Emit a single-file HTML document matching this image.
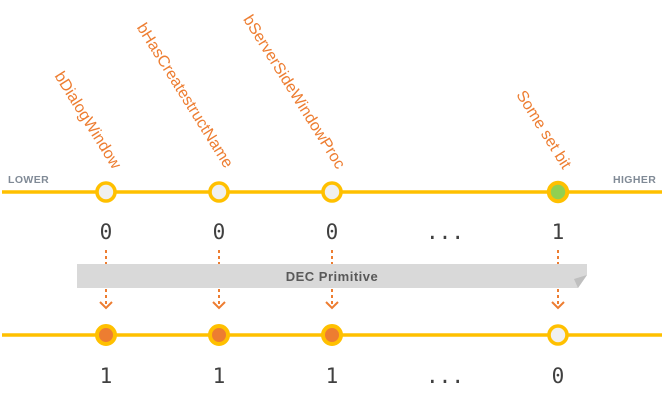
<!DOCTYPE html>
<html>
<head>
<meta charset="utf-8">
<style>
  html, body { margin: 0; padding: 0; background: #ffffff; }
  svg { display: block; }
</style>
</head>
<body>
<svg width="664" height="400" viewBox="0 0 664 400" xmlns="http://www.w3.org/2000/svg">
  <rect x="0" y="0" width="664" height="400" fill="#ffffff"/>

  <!-- Rotated labels -->
  <g font-family="Liberation Sans, Arial, sans-serif" font-size="16" fill="#ED7D31" text-anchor="end">
    <text transform="translate(113,170) rotate(58)">bDialogWindow</text>
    <text transform="translate(225,169) rotate(58)">bHasCreatestructName</text>
    <text transform="translate(337,170) rotate(58)">bServerSideWindowProc</text>
    <text transform="translate(563,170) rotate(58)">Some set bit</text>
  </g>

  <!-- LOWER / HIGHER -->
  <g font-family="Liberation Sans, Arial, sans-serif" font-size="10.5" font-weight="bold" fill="#808A96" letter-spacing="0.4">
    <text x="8" y="183">LOWER</text>
    <text x="613" y="183">HIGHER</text>
  </g>

  <!-- Top line -->
  <line x1="2" y1="192" x2="662" y2="192" stroke="#FFC000" stroke-width="3.6"/>
  <circle cx="106" cy="192" r="9" fill="#F0F0F0" stroke="#FFC000" stroke-width="3.6"/>
  <circle cx="219" cy="192" r="9" fill="#F0F0F0" stroke="#FFC000" stroke-width="3.6"/>
  <circle cx="332" cy="192" r="9" fill="#F0F0F0" stroke="#FFC000" stroke-width="3.6"/>
  <circle cx="558" cy="192" r="9.2" fill="#92D050" stroke="#FFC000" stroke-width="4"/>

  <!-- Top digits -->
  <g font-family="DejaVu Sans Mono, Liberation Mono, monospace" font-size="21" fill="#404040" text-anchor="middle">
    <text x="106" y="239">0</text>
    <text x="219" y="239">0</text>
    <text x="332" y="239">0</text>
    <text x="445" y="239">...</text>
    <text x="558" y="239">1</text>
  </g>

  <!-- Dashed arrows -->
  <g stroke="#ED7D31" stroke-width="2" fill="none">
    <line x1="106" y1="250" x2="106" y2="264" stroke-dasharray="3,3"/>
    <line x1="219" y1="250" x2="219" y2="264" stroke-dasharray="3,3"/>
    <line x1="332" y1="250" x2="332" y2="264" stroke-dasharray="3,3"/>
    <line x1="558" y1="250" x2="558" y2="264" stroke-dasharray="3,3"/>

    <line x1="106" y1="289" x2="106" y2="307" stroke-dasharray="3,3"/>
    <line x1="219" y1="289" x2="219" y2="307" stroke-dasharray="3,3"/>
    <line x1="332" y1="289" x2="332" y2="307" stroke-dasharray="3,3"/>
    <line x1="558" y1="289" x2="558" y2="307" stroke-dasharray="3,3"/>

    <polyline points="100,302 106,308 112,302"/>
    <polyline points="213,302 219,308 225,302"/>
    <polyline points="326,302 332,308 338,302"/>
    <polyline points="552,302 558,308 564,302"/>
  </g>

  <!-- DEC Primitive band -->
  <polygon points="77,264 587,264 587,275 578,288 77,288" fill="#D9D9D9"/>
  <polygon points="587,275 574,279 578,288" fill="#BFBFBF"/>
  <text x="332" y="281" font-family="Liberation Sans, Arial, sans-serif" font-size="13" font-weight="bold" fill="#595959" text-anchor="middle" letter-spacing="0.5">DEC Primitive</text>

  <!-- Bottom line -->
  <line x1="2" y1="335" x2="662" y2="335" stroke="#FFC000" stroke-width="3.6"/>
  <circle cx="106" cy="335" r="9" fill="#ED7D31" stroke="#FFC000" stroke-width="4"/>
  <circle cx="219" cy="335" r="9" fill="#ED7D31" stroke="#FFC000" stroke-width="4"/>
  <circle cx="332" cy="335" r="9" fill="#ED7D31" stroke="#FFC000" stroke-width="4"/>
  <circle cx="558" cy="335" r="9" fill="#F0F0F0" stroke="#FFC000" stroke-width="3.6"/>

  <!-- Bottom digits -->
  <g font-family="DejaVu Sans Mono, Liberation Mono, monospace" font-size="21" fill="#404040" text-anchor="middle">
    <text x="106" y="383">1</text>
    <text x="219" y="383">1</text>
    <text x="332" y="383">1</text>
    <text x="445" y="383">...</text>
    <text x="558" y="383">0</text>
  </g>
</svg>
</body>
</html>
